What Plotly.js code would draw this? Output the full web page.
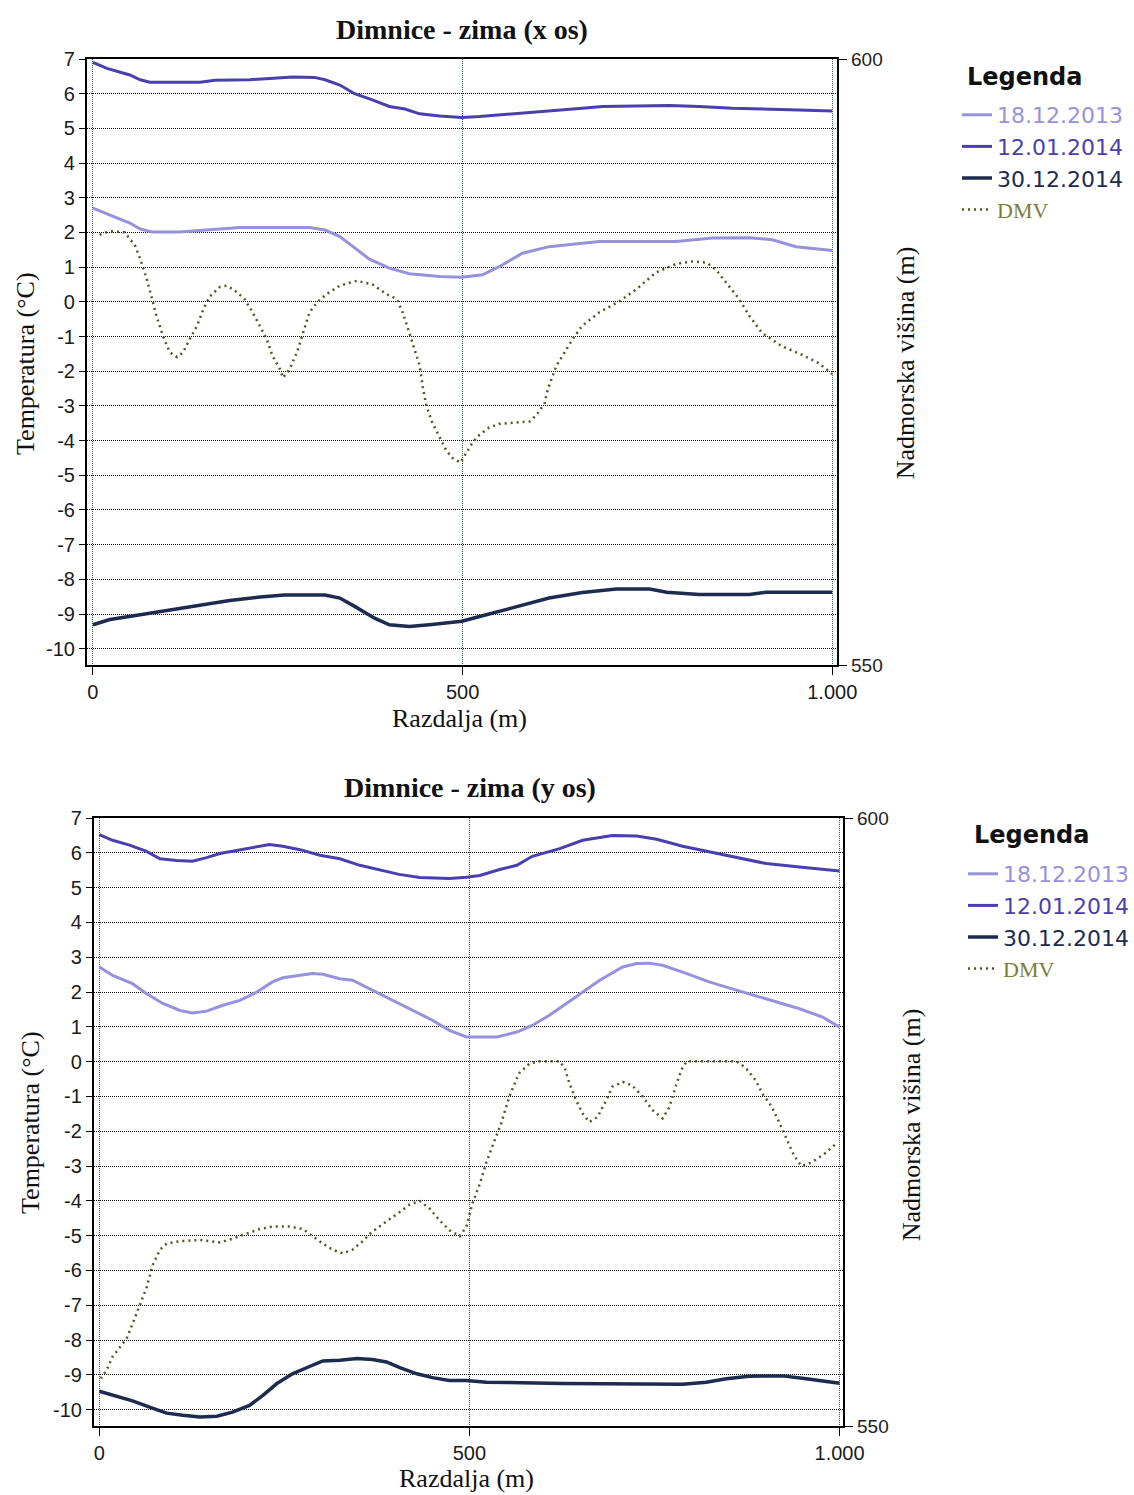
<!DOCTYPE html>
<html>
<head>
<meta charset="utf-8">
<script src="https://cdn.plot.ly/plotly-3.0.1.min.js"></script>
<style>html,body{margin:0;padding:0;background:#fff;}#chart{width:1134px;height:1495px;}</style>
</head>
<body>
<div id="chart"></div>
<script>
// ---------- DATA ----------
const seriesNames = ["18.12.2013", "12.01.2014", "30.12.2014", "DMV"];
const legendTitle = "Legenda";
const xTickVals = [0, 500, 1000];
const xTickText = ["0", "500", "1.000"];
const yTickVals = [-10,-9,-8,-7,-6,-5,-4,-3,-2,-1,0,1,2,3,4,5,6,7];
const yTickText = ["-10","-9","-8","-7","-6","-5","-4","-3","-2","-1","0","1","2","3","4","5","6","7"];
const y2TickVals = [550, 600];

// Top chart: "Dimnice - zima (x os)"
const xosDist1812 = [0,23,50,64,81,117,151,199,293,314,334,354,374,401,428,469,499,527,550,581,617,662,685,789,838,888,919,951,978,1000];
const xosTemp1812 = [2.70,2.51,2.27,2.10,2.01,2.01,2.07,2.14,2.14,2.07,1.88,1.55,1.23,0.97,0.81,0.73,0.71,0.78,1.02,1.40,1.59,1.69,1.74,1.74,1.84,1.85,1.79,1.59,1.52,1.48];
const xosDist1201 = [0,19,50,64,77,145,165,212,239,270,300,314,334,354,378,401,422,442,469,499,523,554,600,631,662,689,780,820,865,955,1000];
const xosTemp1201 = [6.90,6.73,6.54,6.40,6.33,6.33,6.39,6.40,6.44,6.48,6.47,6.40,6.25,6.00,5.82,5.63,5.56,5.42,5.36,5.31,5.34,5.39,5.47,5.53,5.58,5.63,5.66,5.63,5.58,5.53,5.50];
const xosDist3012 = [0,23,64,104,145,185,226,259,314,334,354,381,401,428,455,499,527,573,617,662,708,753,776,820,888,911,1000];
const xosTemp3012 = [-9.31,-9.16,-9.02,-8.88,-8.75,-8.61,-8.51,-8.45,-8.45,-8.54,-8.78,-9.12,-9.31,-9.36,-9.31,-9.21,-9.05,-8.78,-8.54,-8.38,-8.28,-8.28,-8.37,-8.44,-8.44,-8.37,-8.37];
const xosDistDMV = [9,23,43,57,64,73,80,86,95,104,114,122,131,141,149,158,172,181,192,205,216,226,235,243,253,257,266,276,284,293,303,316,334,357,378,397,411,419,428,435,442,446,451,459,469,478,486,497,505,514,523,536,550,573,591,601,611,615,620,627,638,649,662,685,712,735,762,789,811,830,843,857,874,888,905,932,959,982,1000];
const xosElevDMV = [585.5,585.8,585.7,584.6,583.5,581.8,580.2,578.8,577.1,575.8,575.4,575.8,576.9,578.0,579.3,580.4,581.2,581.3,580.9,580.2,579.1,578.0,576.9,575.5,574.4,573.7,574.4,575.8,577.4,579.1,579.9,580.6,581.3,581.7,581.4,580.6,580.2,579.1,577.4,576.1,574.7,573.0,571.4,570.0,568.8,567.7,567.1,566.7,567.5,568.4,569.0,569.6,569.9,570.0,570.1,570.7,571.6,572.7,573.6,574.7,575.8,576.9,578.0,579.1,580.0,581.0,582.4,583.1,583.3,583.2,582.6,581.5,580.2,578.8,577.4,576.3,575.6,574.9,574.0];

// Bottom chart: "Dimnice - zima (y os)"
const yosDist1812 = [0,18,45,64,86,109,126,145,167,190,213,234,248,271,288,302,325,342,369,396,423,450,473,496,537,564,585,608,631,653,676,707,726,743,761,788,824,847,878,901,946,977,1000];
const yosTemp1812 = [2.72,2.48,2.24,1.95,1.67,1.47,1.40,1.45,1.62,1.76,2.00,2.29,2.41,2.48,2.53,2.51,2.38,2.34,2.05,1.76,1.47,1.19,0.90,0.71,0.71,0.85,1.04,1.33,1.67,2.00,2.34,2.72,2.82,2.83,2.77,2.57,2.29,2.14,1.95,1.81,1.52,1.28,0.99];
const yosDist1201 = [0,18,41,64,82,105,126,145,163,190,213,230,248,271,298,325,352,379,405,433,473,496,514,541,564,585,622,653,676,693,726,753,788,834,869,901,946,968,1000];
const yosTemp1201 = [6.52,6.36,6.22,6.04,5.83,5.78,5.76,5.86,5.98,6.09,6.17,6.24,6.19,6.09,5.93,5.83,5.64,5.50,5.38,5.29,5.26,5.30,5.35,5.52,5.64,5.90,6.12,6.36,6.45,6.50,6.48,6.39,6.19,5.99,5.83,5.69,5.59,5.55,5.48];
const yosDist3012 = [0,18,45,68,91,113,136,159,180,203,221,240,261,284,302,325,348,369,388,406,429,450,473,496,523,626,788,820,847,878,923,955,977,1000];
const yosTemp3012 = [-9.47,-9.59,-9.75,-9.93,-10.10,-10.16,-10.21,-10.19,-10.07,-9.88,-9.59,-9.25,-8.97,-8.76,-8.60,-8.58,-8.53,-8.56,-8.63,-8.79,-8.97,-9.08,-9.16,-9.16,-9.21,-9.25,-9.27,-9.21,-9.11,-9.04,-9.03,-9.11,-9.18,-9.24];
const yosDistDMV = [2,10,18,28,37,45,55,64,72,82,91,109,136,163,180,199,217,234,257,275,288,302,315,329,342,356,369,388,406,419,433,446,460,473,487,496,504,514,523,531,543,554,567,581,595,622,629,635,644,653,662,673,685,693,707,720,734,747,761,770,780,788,794,834,861,874,887,896,908,919,928,938,948,956,968,982,995];
const yosElevDMV = [553.9,554.6,555.7,556.5,557.2,558.4,560.0,561.4,563.2,564.5,565.0,565.2,565.3,565.1,565.4,565.8,566.2,566.4,566.4,566.2,565.6,565.0,564.5,564.2,564.5,565.2,566.0,566.8,567.6,568.2,568.5,567.9,566.9,566.1,565.6,566.4,568.3,569.9,571.7,573.0,574.9,577.1,579.0,579.8,580.0,580.0,579.4,578.2,576.8,575.7,575.0,575.4,576.8,577.9,578.3,578.0,577.1,576.0,575.3,576.2,578.2,579.5,580.0,580.0,580.0,579.4,578.4,577.3,576.3,574.9,573.7,572.3,571.4,571.5,571.9,572.5,573.2];

// ---------- STYLE ----------
const W = 1134, H = 1495;
const col = {c1812: "#9792dc", c1201: "#4a3fae", c3012: "#1c2b4e", dmv: "#55551f", dmvText: "#7d7d35"};
const serif = "Liberation Serif, Times New Roman, serif";
const sans = "Liberation Sans, Arial, sans-serif";
const legSans = "DejaVu Sans, sans-serif";

function lbl(name, color, family) {
  return '<span style="color:' + color + (family ? ';font-family:' + family : '') + '">' + name + '</span>';
}

function makeTraces(xa, ya, ya2, legend, d) {
  return [
    {x: d[0], y: d[1], xaxis: xa, yaxis: ya, legend: legend, type: 'scatter', mode: 'lines',
     name: lbl(seriesNames[0], col.c1812), line: {color: col.c1812, width: 3}},
    {x: d[2], y: d[3], xaxis: xa, yaxis: ya, legend: legend, type: 'scatter', mode: 'lines',
     name: lbl(seriesNames[1], col.c1201), line: {color: col.c1201, width: 3}},
    {x: d[4], y: d[5], xaxis: xa, yaxis: ya, legend: legend, type: 'scatter', mode: 'lines',
     name: lbl(seriesNames[2], col.c3012), line: {color: col.c3012, width: 3.5}},
    {x: d[6], y: d[7], xaxis: xa, yaxis: ya2, legend: legend, type: 'scatter', mode: 'lines',
     name: lbl(seriesNames[3], col.dmvText, serif), line: {color: col.dmv, width: 2.5, dash: '2px,4px'}}
  ];
}

const traces = [].concat(
  makeTraces('x', 'y', 'y2', 'legend',
    [xosDist1812, xosTemp1812, xosDist1201, xosTemp1201, xosDist3012, xosTemp3012, xosDistDMV, xosElevDMV]),
  makeTraces('x2', 'y3', 'y4', 'legend2',
    [yosDist1812, yosTemp1812, yosDist1201, yosTemp1201, yosDist3012, yosTemp3012, yosDistDMV, yosElevDMV])
);

function px2x(p) { return p / W; }
function py2y(p) { return 1 - p / H; }

const tickFont = {family: sans, size: 20, color: '#1a1a1a'};

function xAxis(domain, range, anchor) {
  return {domain: domain, range: range, anchor: anchor, tickmode: 'array', tickvals: xTickVals, ticktext: xTickText,
    ticks: 'outside', ticklen: 8, tickcolor: '#000', tickwidth: 1, tickfont: tickFont,
    showline: true, linecolor: '#000', linewidth: 2, mirror: true,
    showgrid: true, gridcolor: '#2f5f2f', gridwidth: 1, griddash: '1px,1px', zeroline: false};
}
function yAxis(domain, anchor) {
  return {domain: domain, range: [-10.47, 7], anchor: anchor, tickmode: 'array', tickvals: yTickVals, ticktext: yTickText,
    ticks: 'outside', ticklen: 6, tickcolor: '#000', tickwidth: 1, tickfont: tickFont,
    showline: true, linecolor: '#000', linewidth: 2,
    showgrid: true, gridcolor: '#000', gridwidth: 1, griddash: '1px,1px', zeroline: false};
}
function y2Axis(overlay, anchor) {
  return {overlaying: overlay, anchor: anchor, side: 'right', range: [550, 600], tickmode: 'array', tickvals: y2TickVals,
    ticks: 'outside', ticklen: 8, tickcolor: '#000', tickwidth: 1, tickfont: {family: sans, size: 19, color: '#222'},
    showline: true, linecolor: '#000', linewidth: 2, showgrid: false, zeroline: false};
}

function ann(text, x, y, size, opts) {
  return Object.assign({text: text, xref: 'paper', yref: 'paper', x: px2x(x), y: py2y(y),
    xanchor: 'center', yanchor: 'middle', showarrow: false,
    font: {family: serif, size: size, color: '#111'}}, opts || {});
}

const legendBase = {xanchor: 'left', yanchor: 'top', bgcolor: 'rgba(0,0,0,0)', borderwidth: 0,
  font: {family: legSans, size: 22, color: '#333'}, itemwidth: 30, tracegroupgap: 0};

const legendTitleFont = {family: legSans, size: 24, color: '#111', weight: 'bold'};

const layout = {
  width: W, height: H, margin: {l: 0, r: 0, t: 0, b: 0},
  paper_bgcolor: '#fff', plot_bgcolor: '#fff', showlegend: true,
  xaxis: xAxis([px2x(87), px2x(838)], [-8.1, 1006.8], 'y'),
  yaxis: yAxis([py2y(665), py2y(59)], 'x'),
  yaxis2: y2Axis('y', 'x'),
  xaxis2: xAxis([px2x(94), px2x(844)], [-7.2, 1005], 'y3'),
  yaxis3: yAxis([py2y(1426), py2y(818)], 'x2'),
  yaxis4: y2Axis('y3', 'x2'),
  legend: Object.assign({}, legendBase, {x: px2x(957), y: py2y(94)}),
  legend2: Object.assign({}, legendBase, {x: px2x(964), y: py2y(853)}),
  annotations: [
    ann('<b>Dimnice - zima (x os)</b>', 462, 30, 28),
    ann('Razdalja (m)', 460, 718, 26),
    ann('Temperatura (°C)', 25, 363, 26, {textangle: -90}),
    ann('Nadmorska višina (m)', 906, 363, 26, {textangle: -90}),
    ann('<b>Dimnice - zima (y os)</b>', 470, 787, 28),
    ann('Razdalja (m)', 467, 1478, 26),
    ann('Temperatura (°C)', 30, 1122, 26, {textangle: -90}),
    ann('Nadmorska višina (m)', 912, 1125, 26, {textangle: -90}),
    ann(legendTitle, 966, 77, 24, {xanchor: 'left', font: legendTitleFont}),
    ann(legendTitle, 973, 835, 24, {xanchor: 'left', font: legendTitleFont})
  ]
};

Plotly.newPlot('chart', traces, layout, {staticPlot: true, displayModeBar: false});
</script>
</body>
</html>
